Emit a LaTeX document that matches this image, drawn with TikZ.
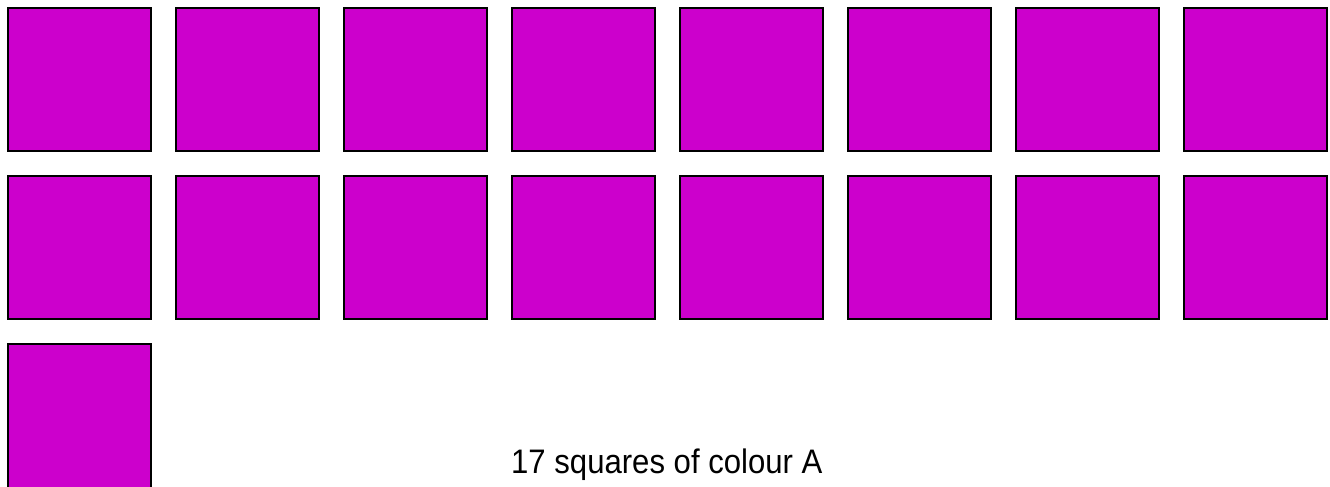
\documentclass[tikz,border=0pt]{standalone}
\usepackage{fontspec}
\setmainfont{Liberation Sans}
\definecolor{colA}{HTML}{CC00CC}
\begin{document}
\begin{tikzpicture}[x=1pt,y=1pt,
  sq/.style={draw=black,fill=colA,line width=1.5pt,minimum size=143pt,inner sep=0pt,outer sep=0pt},
  lbl/.style={font=\fontsize{34}{40}\selectfont,inner sep=0pt,anchor=base west,xscale=0.915}]
\useasboundingbox (0,0) rectangle (1330,-487);
\clip (0,0) rectangle (1330,-487);
\foreach \i in {0,...,7} {
  \node[sq] (a\i) at ({79.5+168*\i},-79.5) {};
  \node[sq] (b\i) at ({79.5+168*\i},-247.5) {};
}
\node[sq,minimum height=160pt] (c0) at (79.5,-424) {};
\node[lbl] (t) at (511,-473) {17 squares of colour A};
\end{tikzpicture}
\end{document}
